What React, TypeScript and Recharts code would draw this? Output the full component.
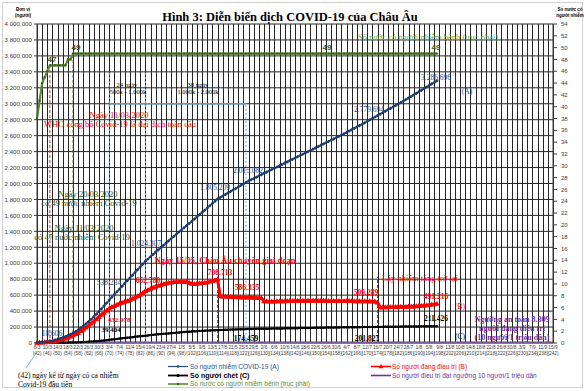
import React from 'react';
import { LineChart, Line, XAxis, YAxis, CartesianGrid, ReferenceLine } from 'recharts';

const FIRST_DAY = 42;
const LAST_DAY = 242;

// tick labels, one every 4 days starting at 6/3 (day 42)
const DATE_LABELS = [
  '6/3', '10/3', '14/3', '18/3', '22/3', '26/3', '30/3', '3/4', '7/4', '11/4', '15/4', '19/4', '23/4',
  '27/4', '1/5', '5/5', '9/5', '13/5', '17/5', '21/5', '25/5', '29/5', '2/6', '6/6', '10/6', '14/6',
  '18/6', '22/6', '26/6', '30/6', '4/7', '8/7', '12/7', '16/7', '20/7', '24/7', '28/7', '1/8', '5/8',
  '9/8', '13/8', '10/8', '14/8', '18/8', '22/8', '26/8', '30/8', '3/9', '7/9', '11/9', '15/9',
];

// daily values from day 42 to day 197, in thousands of people
const CASES = [
  6, 7.5, 9.5, 13, 18.6, 23, 29, 37, 46, 56,
  68, 80, 94, 109, 125, 145, 167, 190, 214, 240,
  268, 298, 330, 362, 395, 430, 465, 501, 538, 573,
  608, 643, 678, 713, 748, 782, 815, 849, 883, 918,
  953, 988, 1024, 1053, 1082, 1111, 1140, 1168, 1196, 1224,
  1252, 1280, 1308, 1336, 1364, 1391, 1418, 1445, 1472, 1499,
  1526, 1554, 1582, 1610, 1638, 1665, 1693, 1721, 1749, 1777, 1805,
  1824, 1843, 1862, 1881, 1900, 1919, 1938, 1957, 1976, 1995,
  2015, 2031, 2047, 2063, 2079, 2095, 2111, 2127, 2143, 2159,
  2175, 2191, 2207, 2223, 2239, 2255, 2271, 2287, 2303, 2319,
  2335, 2351, 2367, 2383, 2399, 2415, 2431, 2447, 2463, 2479,
  2495, 2511, 2527, 2543, 2559, 2575, 2591, 2607, 2624, 2641,
  2658, 2675, 2692, 2709, 2726, 2743, 2761, 2780, 2798, 2816,
  2834, 2852, 2870, 2888, 2906, 2924, 2942, 2960, 2978, 2996,
  3015, 3034, 3053, 3072, 3091, 3110, 3130, 3150, 3170, 3190,
  3210, 3230, 3249, 3268, 3287,
];

const ACTIVE = [
  4, 5, 7, 9, 12, 16, 20, 25, 31, 38,
  47, 57, 68, 81, 96, 112, 130, 150, 170, 193,
  217, 243, 270, 298, 326, 354, 380, 407, 433, 450,
  465, 480, 494, 506, 517, 528, 540, 555, 570, 585,
  605, 628, 653, 665, 680, 694, 706, 717, 727, 737,
  746, 754, 760, 764, 766, 768, 770, 768, 765, 755,
  742, 740, 744, 748, 752, 756, 762, 770, 778, 788, 799,
  586, 584, 583, 581, 580, 578, 577, 575, 574, 572,
  571, 570, 569, 568, 566, 565, 563, 525, 522, 520,
  519, 520, 522, 523, 524, 525, 526, 527, 528, 529,
  530, 530, 531, 531, 532, 531, 532, 531, 530, 530,
  529, 529, 528, 528, 527, 527, 527, 526, 526, 526,
  527, 526, 525, 525, 524, 524, 523, 523, 522, 521,
  520, 509, 446, 447, 448, 449, 450, 451, 452, 453,
  454, 455, 456, 457, 458, 459, 461, 463, 466, 469,
  473, 477, 482, 486, 491,
];

const DEATHS = [
  0.2, 0.3, 0.4, 0.5, 0.7, 0.9, 1.1, 1.4, 1.8, 2.2,
  2.8, 3.5, 4.3, 5.3, 6.3, 7.5, 8.8, 10.2, 11.8, 13.6,
  15.6, 17.8, 20, 22.4, 25, 28, 31.2, 35, 39.4, 43.5,
  47.5, 51.5, 55, 58.5, 62, 65.5, 69.5, 73.5, 77.5, 81,
  84.5, 88, 92, 95.5, 99, 102.5, 105.5, 108.5, 111.5, 114.5,
  117.5, 120.5, 123.5, 126.5, 129.5, 132.5, 135, 137.5, 140, 142.5,
  144.5, 146.5, 148.5, 150.5, 152.5, 154, 155.5, 157, 158.5, 160,
  161.5, 163, 164.3, 165.6, 166.8, 168, 169.2, 170.3, 171.4, 172.4,
  173.4, 174.5, 175.2, 175.9, 176.6, 177.2, 177.8, 178.4, 179, 179.6,
  180.2, 180.8, 181.4, 182, 182.6, 183.1, 183.6, 184.1, 184.6, 185.2,
  185.8, 186.4, 187, 187.6, 188.2, 188.8, 189.4, 190, 190.6, 191.2,
  191.8, 192.4, 193, 193.6, 194.2, 194.7, 195.2, 195.7, 196.2, 196.6,
  197, 197.4, 197.8, 198.2, 198.6, 199, 199.4, 199.8, 200.2, 200.6,
  201, 201.4, 201.8, 202.2, 202.6, 203, 203.4, 203.8, 204.2, 204.6,
  205, 205.4, 205.8, 206.2, 206.6, 207, 207.4, 207.8, 208.2, 208.6,
  209, 209.5, 210, 210.5, 211, 211.4,
];

// number of countries with cases (right axis)
const COUNTRIES = [
  38, 41, 44, 45, 46, 47, 47, 47, 47, 47,
  47, 47, 48, 48, 49,
  49, 49, 49, 49, 49, 49, 49, 49, 49, 49, 49, 49, 49, 49, 49, 49, 49, 49, 49, 49,
  49, 49, 49, 49, 49, 49, 49, 49, 49, 49, 49, 49, 49, 49, 49, 49, 49, 49, 49, 49,
  49, 49, 49, 49, 49, 49, 49, 49, 49, 49, 49, 49, 49, 49, 49, 49, 49, 49, 49, 49,
  49, 49, 49, 49, 49, 49, 49, 49, 49, 49, 49, 49, 49, 49, 49, 49, 49, 49, 49, 49,
  49, 49, 49, 49, 49, 49, 49, 49, 49, 49, 49, 49, 49, 49, 49, 49, 49, 49, 49, 49,
  49, 49, 49, 49, 49, 49, 49, 49, 49, 49, 49, 49, 49, 49, 49, 49, 49, 49, 49, 49,
  49, 49, 49, 49, 49, 49, 49, 49, 49, 49, 49, 49, 49, 49, 49, 49, 49, 49, 49, 49,
  49,
];

// safe threshold: 8.309 people under treatment (10 per million)
const SAFE_DAYS = [42, 242];
const SAFE_VALUE = 8.309;

const rows = CASES.map((v, i) => ({
  day: FIRST_DAY + i,
  cases: v,
  active: ACTIVE[i],
  deaths: DEATHS[i],
  countries: COUNTRIES[i],
}));
const safeRows = SAFE_DAYS.map((d) => ({ day: d, safe: SAFE_VALUE }));

const gridDays: number[] = [];
for (let d = FIRST_DAY; d <= LAST_DAY; d += 2) gridDays.push(d);
const leftTicks: number[] = [];
for (let v = 0; v <= 4000; v += 200) leftTicks.push(v);
const rightTicks: number[] = [];
for (let v = 0; v <= 54; v += 2) rightTicks.push(v);

const SANS = '"Liberation Sans", Arial, sans-serif';
const SERIF = '"Liberation Serif", "Times New Roman", serif';

const BLUE = '#1f4e8c';
const RED = '#ff0000';
const GREEN = '#5b8c2f';
const DKGREEN = '#375623';
const PURPLE = '#7030a0';
const GRID = '#262626';

// plot box (must match the chart margins + axis widths below)
const PLOT = { left: 37, right: 553, top: 24, bottom: 343 };

function DayTick(props: any) {
  const { x, y, payload } = props;
  const off = payload.value - FIRST_DAY;
  if (off % 4 !== 0) return null;
  return (
    <g>
      <text x={x} y={y + 6} textAnchor="middle" fontSize={4.8} fill="#404040" fontFamily={SANS}>
        {DATE_LABELS[off / 4]}
      </text>
      <text x={x} y={y + 12} textAnchor="middle" fontSize={4.8} fill="#404040" fontFamily={SANS}>
        ({payload.value})
      </text>
    </g>
  );
}

const fmtLeft = (v: number) => (v === 0 ? '0' : (v * 1000).toLocaleString('de-DE'));

const blueDot = (p: any) => (
  <path
    key={`b${p.index}`}
    d={`M${p.cx},${p.cy - 1.8}L${p.cx + 1.8},${p.cy}L${p.cx},${p.cy + 1.8}L${p.cx - 1.8},${p.cy}Z`}
    fill="#1a3a6b"
  />
);
const redDot = (p: any) => (
  <path
    key={`r${p.index}`}
    d={`M${p.cx},${p.cy - 3}L${p.cx + 2.8},${p.cy + 2}L${p.cx - 2.8},${p.cy + 2}Z`}
    fill={RED}
  />
);
const blackDot = (p: any) => <circle key={`k${p.index}`} cx={p.cx} cy={p.cy} r={1.2} fill="#000" />;
const greenDot = (p: any) => (
  <rect key={`g${p.index}`} x={p.cx - 1} y={p.cy - 1} width={2} height={2} fill={DKGREEN} />
);

function T(props: any) {
  const { x, y, children, size = 8, color = '#000', anchor = 'middle', weight = 'normal', font = SERIF } = props;
  return (
    <text x={x} y={y} dy="0.35em" textAnchor={anchor} fontSize={size} fill={color} fontWeight={weight} fontFamily={font}>
      {children}
    </text>
  );
}

export default function App() {
  const span = PLOT.right - PLOT.left;
  return (
    <div style={{ position: 'absolute', left: 0, top: 0, width: 586, height: 391, background: '#fff' }}>
      {/* vertical grid every 2 days, behind the chart */}
      <svg width={586} height={391} style={{ position: 'absolute', left: 0, top: 0 }}>
        {gridDays.map((d) => {
          const x = Math.round(PLOT.left + ((d - FIRST_DAY) / (LAST_DAY - FIRST_DAY)) * span) + 0.5;
          return <line key={d} x1={x} x2={x} y1={PLOT.top} y2={PLOT.bottom} stroke={GRID} strokeWidth={1} />;
        })}
      </svg>
      <div style={{ position: 'absolute', left: 0, top: 0 }}>
        <LineChart width={586} height={391} data={rows} margin={{ top: 24, right: 3, bottom: 26, left: 4 }}>
          <CartesianGrid xAxisId="x" yAxisId="left" stroke={GRID} strokeWidth={1} vertical={false} />
          <XAxis
            xAxisId="x"
            type="number"
            dataKey="day"
            domain={[FIRST_DAY, LAST_DAY]}
            ticks={gridDays}
            interval={0}
            tick={<DayTick />}
            tickLine={false}
            tickSize={0}
            tickMargin={0}
            height={22}
            stroke="#808080"
          />
          <YAxis
            yAxisId="left"
            domain={[0, 4000]}
            ticks={leftTicks}
            interval={0}
            width={33}
            tickSize={3}
            tickMargin={2}
            tickFormatter={fmtLeft}
            tick={{ fontSize: 6.2, fill: '#404040', fontFamily: SANS }}
            stroke="#404040"
          />
          <YAxis
            yAxisId="right"
            orientation="right"
            domain={[0, 54]}
            ticks={rightTicks}
            interval={0}
            width={30}
            tickSize={4}
            tickMargin={4}
            tick={{ fontSize: 6, fill: '#404040', fontFamily: SANS }}
            stroke="#404040"
          />

          <ReferenceLine xAxisId="x" yAxisId="left" segment={[{ x: 47, y: 0 }, { x: 47, y: 3500 }]} stroke="#c0392b" strokeDasharray="3 2" />
          <ReferenceLine xAxisId="x" yAxisId="left" segment={[{ x: 56, y: 0 }, { x: 56, y: 3600 }]} stroke={DKGREEN} strokeDasharray="3 2" />
          <ReferenceLine xAxisId="x" yAxisId="left" segment={[{ x: 70, y: 0 }, { x: 70, y: 3400 }]} stroke="#7fb2e5" strokeDasharray="2 2" />
          <ReferenceLine xAxisId="x" yAxisId="left" segment={[{ x: 84, y: 0 }, { x: 84, y: 3400 }]} stroke="#7fb2e5" strokeDasharray="2 2" />
          <ReferenceLine xAxisId="x" yAxisId="left" segment={[{ x: 123, y: 0 }, { x: 123, y: 3000 }]} stroke="#7fb2e5" strokeDasharray="2 2" />
          <ReferenceLine xAxisId="x" yAxisId="left" segment={[{ x: 70, y: 3000 }, { x: 84, y: 3000 }]} stroke="#5b9bd5" strokeWidth={1.3} />
          <ReferenceLine xAxisId="x" yAxisId="left" segment={[{ x: 84, y: 3000 }, { x: 123, y: 3000 }]} stroke="#5b9bd5" strokeWidth={1.3} />
          <ReferenceLine xAxisId="x" yAxisId="left" segment={[{ x: 112, y: 0 }, { x: 112, y: 820 }]} stroke={RED} strokeDasharray="3 2" />
          <ReferenceLine xAxisId="x" yAxisId="left" segment={[{ x: 174, y: 0 }, { x: 174, y: 830 }]} stroke={RED} strokeDasharray="3 2" />

          <Line xAxisId="x" yAxisId="left" data={safeRows} dataKey="safe" stroke={PURPLE} strokeWidth={1.6} dot={false} isAnimationActive={false} />
          <Line xAxisId="x" yAxisId="left" dataKey="deaths" stroke="#000" strokeWidth={2} dot={blackDot} isAnimationActive={false} />
          <Line xAxisId="x" yAxisId="left" dataKey="active" stroke={RED} strokeWidth={3} dot={redDot} isAnimationActive={false} />
          <Line xAxisId="x" yAxisId="left" dataKey="cases" stroke={BLUE} strokeWidth={1.5} dot={blueDot} isAnimationActive={false} />
          <Line xAxisId="x" yAxisId="right" dataKey="countries" stroke={GREEN} strokeWidth={2.2} dot={greenDot} isAnimationActive={false} />
        </LineChart>
      </div>

      <svg width={586} height={391} style={{ position: 'absolute', left: 0, top: 0, pointerEvents: 'none' }}>
        <rect x={2.5} y={2.5} width={580} height={385} fill="none" stroke="#d0d0d0" />
        <T x={290} y={17} size={12.5} weight="bold">Hình 3: Diễn biến dịch COVID-19 của Châu Âu</T>
        <T x={23} y={9} size={4.5} weight="bold" font={SANS}>Đơn vị</T>
        <T x={23} y={15} size={4.5} weight="bold" font={SANS}>(người)</T>
        <T x={570} y={9} size={4.5} weight="bold" font={SANS}>Số nước có</T>
        <T x={570} y={15} size={4.5} weight="bold" font={SANS}>người nhiễm</T>

        <T x={428} y={37} size={8.5} color="#70ad47">Số nước có người nhiễm bệnh (trục phải)</T>
        <T x={52} y={59} size={8} color={DKGREEN} weight="bold" font={SANS}>47</T>
        <T x={76} y={47} size={8} color={DKGREEN} weight="bold" font={SANS}>49</T>
        <T x={327} y={47} size={8} color={DKGREEN} weight="bold" font={SANS}>49</T>
        <T x={436} y={47} size={8} color={DKGREEN} weight="bold" font={SANS}>49</T>

        <T x={127} y={85} size={6.5}>24 ngày</T>
        <T x={128} y={92} size={6.5}>500k - 1.000k</T>
        <T x={198} y={85} size={6.5}>38 ngày</T>
        <T x={198} y={92} size={6.5}>1.000k - 2.000k</T>

        <T x={119} y={115} size={8.5} color={RED}>Ngày 11/03/2020</T>
        <T x={120} y={124} size={8.5} color={RED}>WHO công bố Covid-19 là đại dịch toàn cầu</T>
        <T x={88} y={194} size={8.5} color={DKGREEN}>Ngày 20/03/2020</T>
        <T x={89} y={203} size={8.5} color={DKGREEN}>có 49 nước nhiễm Covid-19</T>
        <T x={84} y={228} size={8.5} color={DKGREEN}>Ngày 11/03/2020</T>
        <T x={82} y={237} size={8.5} color={DKGREEN}>có 47 nước nhiễm Covid-19</T>

        <T x={52} y={333} size={7.5} color={BLUE}>18.606</T>
        <T x={109} y={282} size={7.5} color={BLUE}>538.234</T>
        <T x={146} y={243} size={7.5} color={BLUE}>1.024.307</T>
        <T x={215} y={187} size={7.5} color={BLUE}>1.805.209</T>
        <T x={248} y={170} size={7.5} color={BLUE}>2.015.082</T>
        <T x={369} y={109} size={7.5} color={BLUE}>2.779.694</T>
        <T x={436} y={77} size={7.5} color={BLUE}>3.286.696</T>
        <T x={467} y={91} size={7.5} color={BLUE}>(A)</T>

        <T x={119} y={320} size={7} color={RED} weight="bold">432.978</T>
        <T x={148} y={280} size={7.5} color={RED} weight="bold">652.780</T>
        <T x={225} y={260} size={8.5} color={RED} weight="bold">Ngày 15/05, Châu Âu chuyển giai đoạn</T>
        <T x={220} y={272} size={7.5} color={RED} weight="bold">798.713</T>
        <T x={247} y={287} size={7.5} color={RED} weight="bold">586.335</T>
        <T x={366} y={292} size={7.5} color={RED} weight="bold">509.289</T>
        <T x={420} y={278} size={8.5} color={RED}>Lây nhiễm tăng trở lại</T>
        <T x={436} y={296} size={7.5} color={RED} weight="bold">491.216</T>
        <T x={460} y={306} size={7.5} color={RED}>(B)</T>

        <T x={111} y={330} size={7} weight="bold">39.404</T>
        <T x={246} y={338} size={7.5} weight="bold">174.459</T>
        <T x={367} y={338} size={7.5} weight="bold">201.827</T>
        <T x={436} y={318} size={7.5} weight="bold">211.426</T>
        <T x={460} y={336} size={7.5}>(C)</T>

        <T x={512} y={319} size={8} color={PURPLE} weight="bold">Ngưỡng an toàn 8.309</T>
        <T x={512} y={328} size={8} color={PURPLE} weight="bold">người đang điều trị</T>
        <T x={512} y={337} size={8} color={PURPLE} weight="bold">(10 người/1 triệu dân)</T>

        <line x1={26} y1={368} x2={37} y2={352} stroke="#5b9bd5" strokeWidth={0.8} />
        <T x={18} y={375} size={7.5} anchor="start">(42) ngày kể từ ngày có ca nhiễm</T>
        <T x={18} y={384} size={7.5} anchor="start">Covid-19 đầu tiên</T>

        <line x1={168} y1={366.5} x2={188} y2={366.5} stroke={BLUE} strokeWidth={1.2} />
        <path d="M178,364.9L179.6,366.5L178,368.1L176.4,366.5Z" fill="#1a3a6b" />
        <T x={190} y={366.5} size={6.5} color={BLUE} anchor="start" font={SANS}>Số người nhiễm COVID-19 (A)</T>
        <line x1={168} y1={375.5} x2={188} y2={375.5} stroke="#000" strokeWidth={1.8} />
        <circle cx={178} cy={375.5} r={1.5} fill="#000" />
        <T x={190} y={375.5} size={7} anchor="start" weight="bold" font={SANS}>Số người chết (C)</T>
        <line x1={168} y1={384} x2={188} y2={384} stroke={GREEN} strokeWidth={1.6} />
        <rect x={177} y={383} width={2} height={2} fill={DKGREEN} />
        <T x={190} y={384} size={6.5} color={GREEN} anchor="start" font={SANS}>Số nước có người nhiễm bệnh (trục phải)</T>

        <line x1={371} y1={366.5} x2={391} y2={366.5} stroke={RED} strokeWidth={1.6} />
        <path d="M381,363.9L383.4,368.3L378.6,368.3Z" fill={RED} />
        <T x={392} y={366.5} size={6.5} color={RED} anchor="start" font={SANS}>Số người đang điều trị (B)</T>
        <line x1={371} y1={375.5} x2={391} y2={375.5} stroke={PURPLE} strokeWidth={1.6} />
        <T x={392} y={375.5} size={6.5} color={PURPLE} anchor="start" font={SANS}>Số người điều trị đạt ngưỡng 10 người/1 triệu dân</T>
      </svg>
    </div>
  );
}
